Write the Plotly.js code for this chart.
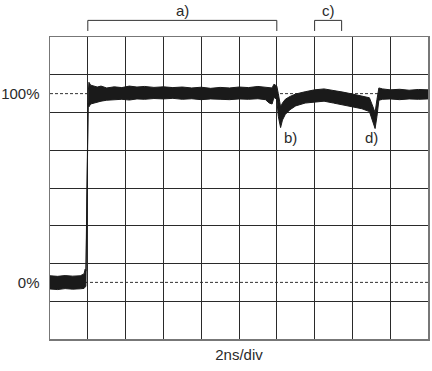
<!DOCTYPE html>
<html>
<head>
<meta charset="utf-8">
<script src="https://cdn.plot.ly/plotly-3.0.1.min.js"></script>
<style>html,body{margin:0;padding:0;background:#fff;}#chart{width:432px;height:371px;}</style>
</head>
<body>
<div id="chart"></div>
<script>
// Time axis (ns), 2 ns per division
const timeNs = [0, 0.4, 0.8, 1.2, 1.6, 1.8, 1.86, 1.9, 2.02, 2.06, 2.15, 2.3, 2.5, 2.7, 3.0, 3.4, 3.8, 4.2, 4.6, 5.0, 5.5, 6.0, 6.5, 7.0, 7.5, 8.0, 8.5, 9.0, 9.5, 10.0, 10.5, 11.0, 11.4, 11.6, 11.75, 11.85, 12.0, 12.08, 12.2, 12.3, 12.45, 12.7, 13.0, 13.5, 14.0, 14.5, 15.0, 15.5, 16.0, 16.5, 16.9, 17.05, 17.2, 17.3, 17.4, 17.6, 18.0, 18.5, 19.0, 19.5, 20.0];
// Upper edge of the noisy trace (%)
const upperPct = [3.5, 3.2, 3.6, 3.3, 3.5, 4.5, 7, 6, 100, 106, 104.5, 104, 103.5, 104, 103, 103.6, 103.2, 104, 103.5, 103.8, 103.3, 103.6, 103.2, 103.5, 103, 103.4, 102.8, 103.3, 103, 103.5, 103.2, 103.8, 103.5, 103.2, 103, 105, 104, 100, 93, 95, 97, 98.5, 99.8, 101, 102, 102.5, 101.8, 100.8, 99.8, 98.8, 97.8, 94, 90, 97, 103, 102.5, 102, 102.3, 101.8, 102.2, 102];
// Lower edge of the noisy trace (%)
const lowerPct = [-3.5, -3.8, -3.3, -3.6, -3.4, -3.2, -2.5, -2, 95, 93, 94.5, 95, 95.5, 96, 96.5, 96.8, 97, 96.6, 97.2, 97, 97.4, 97.2, 97.5, 97, 97.3, 96.8, 97.2, 97, 96.8, 97.2, 97, 97.3, 96.8, 95, 94.5, 98, 97, 88, 82, 86, 89, 91.5, 93.5, 95, 95.5, 96, 95, 94, 93, 92, 90.5, 86, 81.5, 88, 96.5, 97, 97.2, 96.8, 97.2, 97, 97.2];
// Reference levels
const levelPct = [0, 100];
const levelLabels = ['0%', '100%'];
// Annotated intervals above the screen
const bracketStart = [2, 14];
const bracketEnd = [12, 15.43];
const bracketLabels = ['a)', 'c)'];
// Annotated events on the trace
const eventTime = [12.7, 17.0];
const eventPct = [77, 77];
const eventLabels = ['b)', 'd)'];

const font = {family: 'Liberation Sans, Arial, sans-serif', size: 15, color: '#2a2a2a'};

const traces = [
  {x: timeNs, y: upperPct, mode: 'lines', line: {color: '#1a1a1a', width: 1}, hoverinfo: 'skip', showlegend: false},
  {x: timeNs, y: lowerPct, mode: 'lines', line: {color: '#1a1a1a', width: 1}, fill: 'tonexty', fillcolor: '#1a1a1a', hoverinfo: 'skip', showlegend: false}
];

const shapes = [];
levelPct.forEach(v => shapes.push({type: 'line', xref: 'paper', x0: 0, x1: 1, yref: 'y', y0: v, y1: v,
  line: {color: '#333', width: 1, dash: '3px,2px'}, layer: 'below'}));
const annotations = [];
bracketStart.forEach((s, i) => {
  const e = bracketEnd[i];
  shapes.push({type: 'line', xref: 'x', yref: 'paper', x0: s, x1: e, y0: 1.055, y1: 1.055, line: {color: '#333', width: 1}});
  shapes.push({type: 'line', xref: 'x', yref: 'paper', x0: s, x1: s, y0: 1.055, y1: 1.02, line: {color: '#333', width: 1}});
  shapes.push({type: 'line', xref: 'x', yref: 'paper', x0: e, x1: e, y0: 1.055, y1: 1.02, line: {color: '#333', width: 1}});
  annotations.push({x: (s + e) / 2, xref: 'x', y: 1.088, yref: 'paper', yanchor: 'middle', xanchor: 'center', borderpad: 0, text: bracketLabels[i], showarrow: false, font: font});
});
eventLabels.forEach((t, i) => annotations.push({x: eventTime[i], y: eventPct[i], xref: 'x', yref: 'y', xanchor: 'center', yanchor: 'middle', text: t, showarrow: false, font: font}));

const layout = {
  width: 432, height: 371,
  margin: {l: 50, r: 4, t: 37, b: 32},
  paper_bgcolor: '#fff', plot_bgcolor: '#fff',
  font: font,
  showlegend: false,
  xaxis: {
    range: [0, 20], dtick: 2, tick0: 0, showticklabels: false, ticks: '',
    showgrid: true, gridcolor: '#2a2a2a', gridwidth: 1, zeroline: false,
    showline: true, mirror: true, linecolor: '#777', linewidth: 1.5,
    title: {text: '2ns/div', font: font, standoff: 10}, automargin: false, fixedrange: true
  },
  yaxis: {
    range: [-30, 130], tickmode: 'array', tickvals: levelPct, ticktext: levelLabels,
    showgrid: false, zeroline: false, ticks: '', ticklabelstandoff: 6,
    minor: {tick0: -10, dtick: 20, showgrid: true, gridcolor: '#2a2a2a', gridwidth: 1, ticks: ''},
    showline: true, mirror: true, linecolor: '#777', linewidth: 1.5,
    automargin: false, fixedrange: true
  },
  shapes: shapes,
  annotations: annotations
};

Plotly.newPlot('chart', traces, layout, {displayModeBar: false, staticPlot: true});
</script>
</body>
</html>
